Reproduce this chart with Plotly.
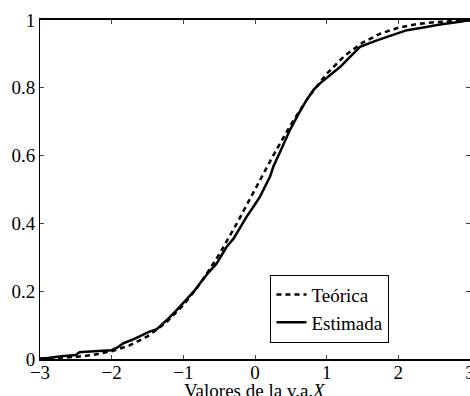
import plotly.graph_objects as go

# Theoretical CDF (standard normal), read/known values
x_teo = [-3.0, -2.75, -2.5, -2.25, -2.0, -1.75, -1.5, -1.25, -1.0, -0.75, -0.5, -0.25, 0.0,
         0.25, 0.5, 0.75, 1.0, 1.25, 1.5, 1.75, 2.0, 2.25, 2.5, 2.75, 3.0]
y_teo = [0.0013, 0.0030, 0.0062, 0.0122, 0.0228, 0.0401, 0.0668, 0.1057, 0.1587, 0.2266, 0.3085, 0.4013, 0.5,
         0.5987, 0.6915, 0.7734, 0.8413, 0.8943, 0.9332, 0.9599, 0.9772, 0.9878, 0.9938, 0.9970, 0.9987]

# Estimated CDF
x_est = [-3.0, -2.9, -2.7, -2.5, -2.45, -2.3, -2.1, -2.0, -1.92, -1.84, -1.72, -1.6, -1.48, -1.37,
         -1.23, -1.09, -0.95, -0.85, -0.77, -0.65, -0.535, -0.45, -0.395, -0.3, -0.256, -0.18, -0.116,
         -0.02, 0.07, 0.21, 0.255, 0.37, 0.488, 0.6, 0.72, 0.82, 0.907, 1.05, 1.19, 1.33, 1.465, 1.7,
         1.9, 2.12, 2.35, 2.58, 2.86, 3.0]
y_est = [0.0, 0.003, 0.008, 0.012, 0.02, 0.022, 0.024, 0.026, 0.034, 0.046, 0.056, 0.068, 0.08, 0.088,
         0.115, 0.145, 0.178, 0.2, 0.223, 0.255, 0.282, 0.31, 0.331, 0.355, 0.371, 0.395, 0.42,
         0.45, 0.479, 0.538, 0.567, 0.62, 0.676, 0.72, 0.764, 0.795, 0.813, 0.838, 0.862, 0.892, 0.921, 0.94,
         0.955, 0.97, 0.978, 0.987, 0.995, 1.0]

x_ticks = [-3, -2, -1, 0, 1, 2, 3]
y_ticks = [0, 0.2, 0.4, 0.6, 0.8, 1]
y_tick_labels = ["0", "0.2", "0.4", "0.6", "0.8", "1"]
x_title = "Valores de la v.a.<i>X</i>"

FONT = "Liberation Serif"

fig = go.Figure()
fig.add_trace(go.Scatter(x=x_teo, y=y_teo, mode="lines", name="Teórica",
                         line=dict(color="black", width=2.5, dash="5px,4px")))
fig.add_trace(go.Scatter(x=x_est, y=y_est, mode="lines", name="Estimada",
                         line=dict(color="black", width=2.5)))

fig.update_layout(
    width=470, height=396,
    margin=dict(l=40, r=0, t=20, b=37),
    paper_bgcolor="white", plot_bgcolor="white",
    font=dict(family=FONT, size=19, color="black"),
    showlegend=True,
    legend=dict(x=0.536, y=0.249, xanchor="left", yanchor="top",
                bordercolor="black", borderwidth=1, bgcolor="white",
                font=dict(family=FONT, size=19), tracegroupgap=0,
                itemwidth=30),
    xaxis=dict(range=[-3, 3], tickvals=x_ticks, ticks="inside", ticklen=4,
               showline=True, linecolor="black", linewidth=1.5, mirror="ticks",
               showgrid=False, zeroline=False, automargin=False, ticklabelstandoff=-5,
               ticklabeloverflow="allow"),
    yaxis=dict(range=[0, 1], tickvals=y_ticks, ticktext=y_tick_labels, ticks="inside", ticklen=4,
               showline=True, linecolor="black", linewidth=1, mirror="ticks",
               showgrid=False, zeroline=False, automargin=False),
    annotations=[dict(text=x_title, xref="x", x=0, yref="paper", y=0,
                      xanchor="center", yanchor="top", yshift=-19, showarrow=False,
                      font=dict(family=FONT, size=19))],
)

fig.write_html("out.html", config={"displayModeBar": False},
               post_script="document.body.style.margin='0';")
